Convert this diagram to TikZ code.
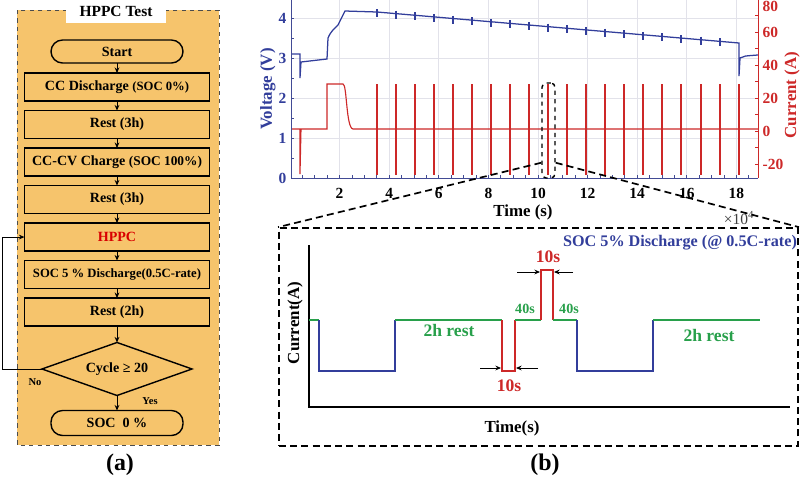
\documentclass[tikz,border=0pt]{standalone}
\usepackage{fontspec}
\setmainfont{Liberation Serif}
\usepackage{xcolor}
\usepackage{tikz}
\usetikzlibrary{arrows.meta, positioning, calc, shapes.geometric}
\definecolor{panelorange}{RGB}{246,196,108}
\definecolor{voltblue}{RGB}{50,62,155}
\definecolor{currred}{RGB}{205,40,40}
\definecolor{restgreen}{RGB}{40,160,75}
\definecolor{gridgray}{RGB}{226,226,234}

\begin{document}
\begin{tikzpicture}[
    x=0.025cm, y=-0.025cm,
    >={Stealth[length=1.4mm, width=1.2mm]},
    every node/.style={font=\bfseries},
    box/.style={draw, line width=1pt, outer sep=0pt, minimum width=4.625cm, minimum height=0.7cm, inner sep=1pt, font=\fontsize{10}{12}\selectfont\bfseries},
    term/.style={draw, line width=1pt, outer sep=0pt, rounded corners=0.29cm, minimum width=3.3cm, minimum height=0.575cm, inner sep=1pt, font=\fontsize{10}{12}\selectfont\bfseries},
    decide/.style={draw, diamond, aspect=2.8, line width=1pt, outer sep=0pt, minimum width=3.75cm, minimum height=1.325cm, inner sep=0pt, font=\fontsize{10}{12}\selectfont\bfseries},
    flow/.style={->, line width=0.7pt},
    small/.style={font=\fontsize{7.5}{9}\selectfont\bfseries},
    gridline/.style={gridgray, line width=0.5pt},
    voltline/.style={voltblue, line width=0.9pt},
    currline/.style={currred, line width=0.8pt},
    ticklab/.style={font=\fontsize{11}{13}\selectfont\bfseries, inner sep=1pt},
    axlab/.style={font=\fontsize{12}{14}\selectfont\bfseries},
    wave/.style={line width=1.3pt},
    dim/.style={->, line width=0.6pt},
    zoomline/.style={dashed, line width=1.2pt, dash pattern=on 5pt off 3pt},
]
    \useasboundingbox (0,0) rectangle (800,482);

    % (a) flowchart panel
    \fill[panelorange] (17,10) rectangle (219,445);
    \draw[dashed, gray!60!black, line width=0.6pt] (17,10) rectangle (219,445);
    \node[fill=white, minimum width=2.5cm, minimum height=0.575cm, font=\fontsize{11}{13}\selectfont\bfseries] (title) at (116,11) {HPPC Test};

    \node[term] (start) at (117,51.5) {Start};
    \node[box, below=0.25cm of start] (ccd) {CC Discharge {\fontsize{9}{11}\selectfont(SOC 0\%)}};
    \node[box, below=0.2375cm of ccd] (rest1) {Rest (3h)};
    \node[box, below=0.2375cm of rest1] (cccv) {CC-CV Charge {\fontsize{9.5}{11}\selectfont(SOC 100\%)}};
    \node[box, below=0.2375cm of cccv] (rest2) {Rest (3h)};
    \node[box, below=0.2375cm of rest2, text=red!85!black] (hppc) {HPPC};
    \node[box, below=0.2375cm of hppc, font=\fontsize{9}{11}\selectfont\bfseries] (soc5) {SOC 5 \% Discharge(0.5C-rate)};
    \node[box, below=0.2375cm of soc5] (rest3) {Rest (2h)};
    \node[decide, below=0.41cm of rest3] (cycle) {Cycle ≥ 20};
    \node[term, below=0.375cm of cycle, minimum height=0.625cm] (soc0) {SOC\ \ 0 \%};

    \draw[flow] (start) -- (ccd);
    \draw[flow] (ccd) -- (rest1);
    \draw[flow] (rest1) -- (cccv);
    \draw[flow] (cccv) -- (rest2);
    \draw[flow] (rest2) -- (hppc);
    \draw[flow] (hppc) -- (soc5);
    \draw[flow] (soc5) -- (rest3);
    \draw[flow] (rest3) -- (cycle);
    \draw[flow] (cycle) -- (soc0);
    \draw[flow] (cycle.west) -- ++(-39,0) |- (hppc.west);
    \node[small] (no) at (35,382) {No};
    \node[small] (yes) at (150,401) {Yes};

    % (b) HPPC profile
    \foreach \t in {2,4,...,18}
        \draw[gridline] ({290+24.8*\t},0) -- ({290+24.8*\t},178);
    \foreach \v in {1,...,4}
        \draw[gridline] (291,{178-40*\v}) -- (758,{178-40*\v});

    \draw[voltblue!80!gray, line width=0.7pt] (291,0) -- (291,178) -- (758,178);
    \draw[currred, line width=0.7pt] (758,0) -- (758,178);
    \foreach \t in {0.5,1,...,18.5}
        \draw[voltblue!80!gray, line width=0.5pt] ({290+24.8*\t},178) -- ({290+24.8*\t},175);
    \foreach \v in {0,0.5,...,4.5}
        \draw[voltblue!80!gray, line width=0.5pt] (291,{178-40*\v}) -- (294,{178-40*\v});
    \foreach \c in {-20,-10,...,80}
        \draw[currred, line width=0.5pt] (758,{131-1.65*\c}) -- (755,{131-1.65*\c});

    \foreach \v in {0,...,4}
        \node[ticklab, voltblue, anchor=east] (vt\v) at (288,{178-40*\v}) {\v};
    \foreach \t in {2,4,...,18}
        \node[ticklab] (tt\t) at ({290+24.8*\t},193) {\t};
    \foreach \c in {60,40,20,0,-20}
        \node[ticklab, currred, anchor=west] (ct\c) at (761,{131-1.65*\c}) {\c};
    \node[ticklab, currred, anchor=west] (ct80) at (761,6) {80};

    \node[axlab, voltblue, rotate=90] (vlab) at (268,89) {Voltage (V)};
    \node[axlab, currred, rotate=90] (clab) at (792,95) {Current (A)};
    \node[axlab] (tlab) at (523,212) {Time (s)};
    \node[font=\fontsize{11}{13}\selectfont, text=black!75, inner sep=0pt] (scale) at (739,218) {×10\textsuperscript{4}};

    % current trace
    \draw[currline] (292,129) -- (300,129) -- (300,174) -- (301,129) -- (327,129) -- (327,84) -- (343,84)
        .. controls (347,84) and (346,128) .. (353,129) -- (758,129);
    \foreach \s in {377,396,415,434,453,472,491,510,529,548,567,586,605,624,643,662,681,701,720,739} {
        \draw[currline] (\s,84) -- (\s,129);
        \draw[currline, line width=1.5pt] (\s,129) -- (\s,175);
    }

    % voltage trace
    \draw[voltline] (292,54) -- (300,54) -- (300,78) -- (301,62) -- (327,59) -- (328,38)
        .. controls (331,31) and (334,29) .. (338,25) -- (345,11) -- (377,12) -- (739,43)
        -- (739,76) -- (740,58) .. controls (744,56) .. (758,55);
    \foreach \s in {377,396,415,434,453,472,491,510,529,548,567,586,605,624,643,662,681,701,720} {
        \pgfmathsetmacro\lev{12+0.0856*(\s-377)}
        \draw[voltline] (\s,\lev-3) -- (\s,\lev+5);
    }

    % zoom
    \node[draw, dashed, line width=1pt, rounded corners=3pt, minimum width=0.325cm, minimum height=2.375cm, inner sep=0pt] (zsrc) at (548.5,130.5) {};
    \node[draw, zoomline, minimum width=12.975cm, minimum height=5.45cm, inner sep=0pt] (zbox) at (538.5,337) {};
    \draw[zoomline] ($(zsrc.south west)+(0,-16)$) -- (zbox.north west);
    \draw[zoomline] ($(zsrc.south east)+(0,-16)$) -- (zbox.north east);

    \draw[line width=1.3pt] (309,245) -- (309,407) -- (790,407);
    \node[axlab, rotate=90] (ylab) at (295,323) {Current(A)};
    \node[axlab] (xlab) at (512,428) {Time(s)};

    \draw[wave, restgreen] (309,320) -- (319,320);
    \draw[wave, voltblue] (319,320) -- (319,371) -- (395,371) -- (395,320);
    \draw[wave, restgreen] (395,320) -- (502,320);
    \draw[wave, currred] (502,320) -- (502,371) -- (515,371) -- (515,320);
    \draw[wave, restgreen] (515,320) -- (541,320);
    \draw[wave, currred] (541,320) -- (541,270) -- (553,270) -- (553,320);
    \draw[wave, restgreen] (553,320) -- (577,320);
    \draw[wave, voltblue] (577,320) -- (577,371) -- (653,371) -- (653,320);
    \draw[wave, restgreen] (653,320) -- (760,320);

    \coordinate (la) at (480,368);
    \coordinate (lb) at (538,368);
    \coordinate (ua) at (517,272);
    \coordinate (ub) at (573,272);
    \draw[dim] (la) -- (501,368);
    \draw[dim] (lb) -- (516,368);
    \draw[dim] (ua) -- (540,272);
    \draw[dim] (ub) -- (554,272);

    \node[axlab, restgreen, font=\fontsize{12.5}{14}\selectfont\bfseries] (rest1lab) at (449,330) {2h rest};
    \node[axlab, restgreen, font=\fontsize{12.5}{14}\selectfont\bfseries] (rest2lab) at (709,335) {2h rest};
    \node[axlab, currred, font=\fontsize{12.5}{14}\selectfont\bfseries] (tenlo) at (509,386) {10s};
    \node[axlab, currred, font=\fontsize{12.5}{14}\selectfont\bfseries] (tenhi) at (548,257) {10s};
    \node[restgreen, font=\fontsize{10}{12}\selectfont\bfseries] (forty1) at (525,309) {40s};
    \node[restgreen, font=\fontsize{10}{12}\selectfont\bfseries] (forty2) at (569,309) {40s};
    \node[voltblue, font=\fontsize{11.5}{13}\selectfont\bfseries] (soclab) at (680,243) {SOC 5\% Discharge (@ 0.5C-rate)};

    \node[font=\fontsize{17}{19}\selectfont\bfseries] (pa) at (120,465) {(a)};
    \node[font=\fontsize{17}{19}\selectfont\bfseries] (pb) at (545,465) {(b)};
\end{tikzpicture}
\end{document}
